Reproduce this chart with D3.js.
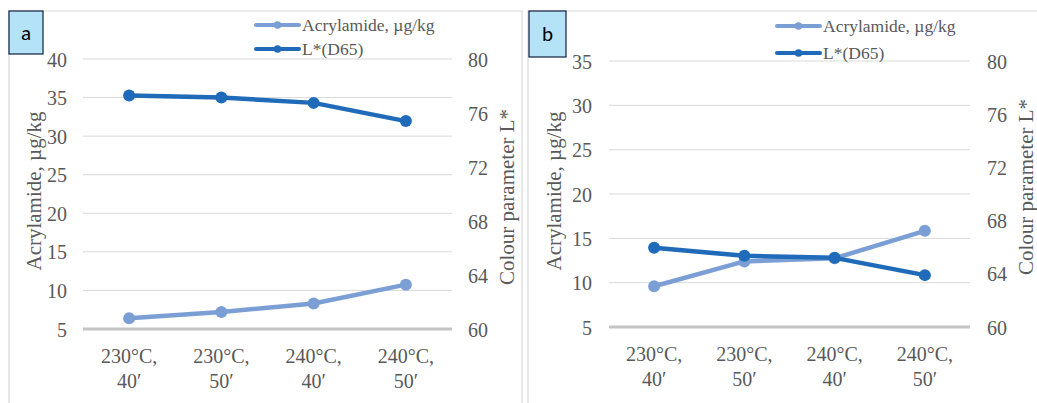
<!DOCTYPE html>
<html>
<head>
<meta charset="utf-8">
<script src="https://cdn.jsdelivr.net/npm/d3@7/dist/d3.min.js"></script>
<style>
  html, body { margin: 0; padding: 0; background: #fff; }
  svg { display: block; }
</style>
</head>
<body>
<svg id="chart" width="1037" height="403"></svg>
<script>
// ---- Data ----
const categories = [["230°C,", "40′"], ["230°C,", "50′"], ["240°C,", "40′"], ["240°C,", "50′"]];
const seriesNames = ["Acrylamide, µg/kg", "L*(D65)"];
const acrylamideA = [6.4, 7.2, 8.3, 10.75];
const lightnessA = [77.3, 77.15, 76.75, 75.4];
const acrylamideB = [9.6, 12.4, 12.75, 15.85];
const lightnessB = [65.95, 65.35, 65.2, 63.9];
const leftTicksA = [5, 10, 15, 20, 25, 30, 35, 40];
const leftTicksB = [5, 10, 15, 20, 25, 30, 35];
const rightTicks = [60, 64, 68, 72, 76, 80];
const leftTitle = "Acrylamide, µg/kg";
const rightTitle = "Colour parameter L*";

const colorAcr = "#7b9fd5";
const colorL = "#1f6bb9";
const SERIF = "'Liberation Serif', 'Times New Roman', serif";
const TXT = "#595959";

const svg = d3.select("#chart");
svg.append("rect").attr("width", 1037).attr("height", 403).attr("fill", "#fff");

function serif(sel, size) {
  return sel.style("font-family", SERIF).style("font-size", size + "px").style("fill", TXT);
}

function panel(cfg) {
  const g = svg.append("g");
  // frame
  g.append("path")
    .attr("d", `M${cfg.frame[0]},410 V${cfg.frame[2]} H${cfg.frame[1]} V410`)
    .attr("fill", "none").attr("stroke", "#d9d9d9").attr("stroke-width", 1.2);

  const x = d3.scaleBand().domain(d3.range(categories.length)).range([cfg.x0, cfg.x1]);
  const yL = d3.scaleLinear().domain(cfg.leftDomain).range([cfg.yb, cfg.yt]);
  const yR = d3.scaleLinear().domain([60, 80]).range([cfg.yb, cfg.yt]);

  // gridlines
  g.selectAll(".grid").data(cfg.leftTicks.slice(1)).enter().append("line")
    .attr("x1", cfg.x0).attr("x2", cfg.x1)
    .attr("y1", d => yL(d)).attr("y2", d => yL(d))
    .attr("stroke", "#d9d9d9").attr("stroke-width", 1);
  g.append("line").attr("x1", cfg.x0).attr("x2", cfg.x1)
    .attr("y1", yL(cfg.leftDomain[0])).attr("y2", yL(cfg.leftDomain[0]))
    .attr("stroke", "#c4c4c4").attr("stroke-width", 3);

  // axes
  const axL = g.append("g").attr("transform", `translate(${cfg.leftLabelX},0)`)
    .call(d3.axisLeft(yL).tickValues(cfg.leftTicks).tickSize(0).tickPadding(0));
  axL.select(".domain").remove();
  serif(axL.selectAll("text"), 20).attr("dy", "0.35em");

  const axR = g.append("g").attr("transform", `translate(${cfg.rightLabelX},0)`)
    .call(d3.axisRight(yR).tickValues(rightTicks).tickSize(0).tickPadding(0));
  axR.select(".domain").remove();
  serif(axR.selectAll("text"), 20).attr("dy", "0.35em");

  // x labels
  const xl = serif(g.selectAll(".xl").data(categories).enter().append("text"), 20)
    .attr("text-anchor", "middle");
  xl.append("tspan").attr("x", (d, i) => x(i) + x.bandwidth() / 2).attr("y", cfg.yb + 34).text(d => d[0]);
  xl.append("tspan").attr("x", (d, i) => x(i) + x.bandwidth() / 2).attr("y", cfg.yb + 59).text(d => d[1]);

  // titles
  serif(g.append("text"), 21).attr("transform", `translate(${cfg.lt[0]},${cfg.lt[1]}) rotate(-90)`)
    .attr("text-anchor", "middle").attr("dominant-baseline", "central").text(leftTitle);
  serif(g.append("text"), 21).attr("transform", `translate(${cfg.rt[0]},${cfg.rt[1]}) rotate(-90)`)
    .attr("text-anchor", "middle").attr("dominant-baseline", "central").text(rightTitle);

  // lines
  const cx = i => x(i) + x.bandwidth() / 2;
  const lineL = d3.line().x((d, i) => cx(i)).y(d => yL(d));
  const lineR = d3.line().x((d, i) => cx(i)).y(d => yR(d));
  g.append("path").attr("d", lineL(cfg.acr)).attr("fill", "none")
    .attr("stroke", colorAcr).attr("stroke-width", 4.5).attr("stroke-linejoin", "round");
  g.selectAll(".ma").data(cfg.acr).enter().append("circle")
    .attr("cx", (d, i) => cx(i)).attr("cy", d => yL(d)).attr("r", 6).attr("fill", colorAcr);
  g.append("path").attr("d", lineR(cfg.lum)).attr("fill", "none")
    .attr("stroke", colorL).attr("stroke-width", 4.5).attr("stroke-linejoin", "round");
  g.selectAll(".ml").data(cfg.lum).enter().append("circle")
    .attr("cx", (d, i) => cx(i)).attr("cy", d => yR(d)).attr("r", 6).attr("fill", colorL);

  // legend
  [colorAcr, colorL].forEach((c, k) => {
    const ly = cfg.legY[k];
    g.append("line").attr("x1", cfg.legX[0]).attr("x2", cfg.legX[1]).attr("y1", ly).attr("y2", ly)
      .attr("stroke", c).attr("stroke-width", 4).attr("stroke-linecap", "round");
    g.append("circle").attr("cx", (cfg.legX[0] + cfg.legX[1]) / 2).attr("cy", ly).attr("r", 3.8).attr("fill", c);
    serif(g.append("text"), 17.5).attr("x", cfg.legX[1] + 3).attr("y", ly).attr("dominant-baseline", "central")
      .text(seriesNames[k]);
  });

  // label box
  g.append("rect").attr("x", cfg.box[0]).attr("y", cfg.box[1]).attr("width", cfg.box[2]).attr("height", cfg.box[3])
    .attr("fill", "#b4e2f6").attr("stroke", "#1f2f4f").attr("stroke-width", 1.3);
  g.append("text").attr("x", cfg.box[0] + cfg.box[2] / 2).attr("y", cfg.box[1] + cfg.box[3] / 2)
    .attr("text-anchor", "middle").attr("dominant-baseline", "central")
    .style("font-family", "Carlito, 'Liberation Sans', Arial, sans-serif").style("fill", "#000")
    .style("font-size", "21px").text(cfg.label);
}

panel({
  frame: [9, 522, 11], x0: 83, x1: 452, yt: 59, yb: 329,
  leftDomain: [5, 40], leftTicks: leftTicksA,
  leftLabelX: 67, rightLabelX: 468,
  lt: [34, 191], rt: [507, 197],
  acr: acrylamideA, lum: lightnessA,
  legX: [256, 299], legY: [25, 49],
  box: [9, 11, 34, 43], label: "a"
});
panel({
  frame: [528, 1045, 11], x0: 609, x1: 970, yt: 61, yb: 327,
  leftDomain: [5, 35], leftTicks: leftTicksB,
  leftLabelX: 592, rightLabelX: 987,
  lt: [554, 191], rt: [1026, 187],
  acr: acrylamideB, lum: lightnessB,
  legX: [777, 820], legY: [26, 53],
  box: [529, 11, 37, 46], label: "b"
});
</script>
</body>
</html>
